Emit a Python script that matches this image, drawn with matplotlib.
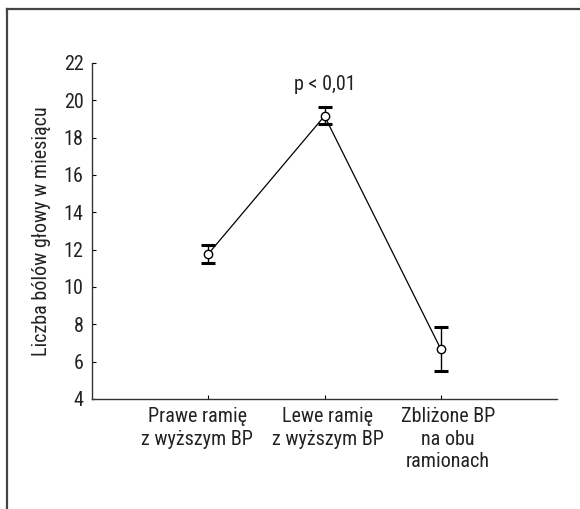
import matplotlib
matplotlib.use("Agg")
import matplotlib.pyplot as plt
from matplotlib.lines import Line2D

categories = ["Prawe ramię\nz wyższym BP", "Lewe ramię\nz wyższym BP", "Zbliżone BP\nna obu\nramionach"]
means = [11.77, 19.16, 6.68]
lower = [11.29, 18.73, 5.50]
upper = [12.25, 19.64, 7.86]
yticks = [4, 6, 8, 10, 12, 14, 16, 18, 20, 22]

plt.rcParams['font.family'] = ['Roboto Condensed', 'Liberation Sans', 'DejaVu Sans']
FS = 14.5
TC = '#222222'

fig = plt.figure(figsize=(5.8, 5.09), dpi=100)
ax = fig.add_axes([92/580, 1-399/509, (557-92)/580, (399-63)/509])

x = [1, 2, 3]
yerr = [[m - l for m, l in zip(means, lower)], [u - m for m, u in zip(means, upper)]]
ax.errorbar(x, means, yerr=yerr, fmt='none', ecolor='black', elinewidth=1.0,
            capsize=5, capthick=2.2, zorder=2)
ax.plot(x, means, color='black', lw=0.9, marker='o', markersize=6,
        markerfacecolor='white', markeredgecolor='black', markeredgewidth=1.0, zorder=3)

ax.set_xlim(0, 4)
ax.set_ylim(4, 22)
ax.set_yticks(yticks)
ax.set_xticks(x)
ax.set_xticklabels([])
label_shift = [-0.095, 0.026, 0.06]
for xi, lab, sh in zip(x, categories, label_shift):
    ax.text(xi + sh, -0.025, lab, transform=ax.get_xaxis_transform(), ha='center', va='top',
            fontsize=FS, linespacing=1.22, color=TC, multialignment='center')
ax.tick_params(axis='y', labelsize=FS, direction='in', length=3, width=0.8, pad=6, labelcolor=TC)
ax.tick_params(axis='x', direction='in', length=3, width=0.8)
for s in ['top', 'right']:
    ax.spines[s].set_visible(False)
for s in ['left', 'bottom']:
    ax.spines[s].set_linewidth(1.0)
    ax.spines[s].set_color('#333333')

ax.set_ylabel("Liczba bólów głowy w miesiącu", fontsize=FS, labelpad=9, color=TC)
ax.text(2, 20.85, "p < 0,01", ha='center', va='center', fontsize=FS, color=TC)

# figure frame
fig.add_artist(Line2D([7/580, 7/580], [0, 1-9/509], transform=fig.transFigure, color='#444444', lw=1.6))
fig.add_artist(Line2D([7/580, 1], [1-9/509, 1-9/509], transform=fig.transFigure, color='#444444', lw=1.6))

fig.savefig("out.png", dpi=100)
